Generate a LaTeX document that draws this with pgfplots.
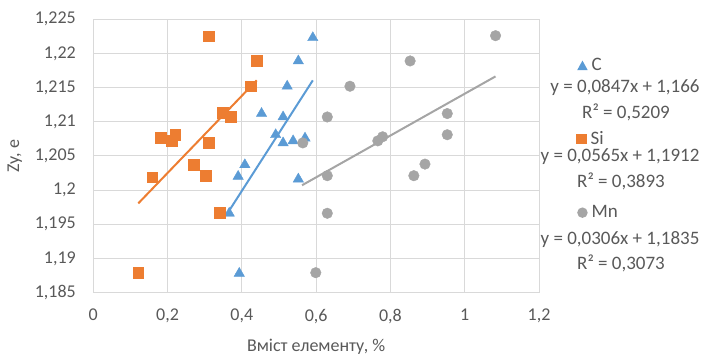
\documentclass[border=0pt]{standalone}
\usepackage{pgfplots}
\pgfplotsset{compat=1.18}
\usepackage{fontspec}
\setmainfont{Carlito}
\definecolor{cC}{HTML}{5B9BD5}
\definecolor{cSi}{HTML}{ED7D31}
\definecolor{cMn}{HTML}{A5A5A5}
\definecolor{txt}{HTML}{595959}
\definecolor{gridc}{HTML}{D9D9D9}
\begin{document}
\begin{tikzpicture}
\useasboundingbox (0pt,0pt) rectangle (702pt,358pt);
\begin{axis}[
  at={(93.3pt,65.5pt)}, anchor=south west,
  scale only axis, width=445.7pt, height=273.2pt,
  xmin=0, xmax=1.2, ymin=1.185, ymax=1.225,
  xtick={0,0.2,0.4,0.6,0.8,1,1.2},
  ytick={1.185,1.19,1.195,1.2,1.205,1.21,1.215,1.22,1.225},
  /pgf/number format/assume math mode=true,
  xticklabel={\pgfmathprintnumber[fixed,precision=1,use comma]{\tick}},
  yticklabel={\pgfmathprintnumber[fixed,precision=3,use comma]{\tick}},
  grid=major, grid style={gridc, line width=1pt},
  axis line style={gridc, line width=1pt},
  major tick length=0pt,
  tick label style={font=\fontsize{18}{20}\selectfont, text=txt},
  xticklabel style={yshift=-13pt},
  yticklabel style={xshift=-14pt},
  xlabel={Вміст елементу, \%},
  ylabel={Zy, e},
  label style={font=\fontsize{18}{20}\selectfont, text=txt},
  xlabel style={at={(axis description cs:0.5,-0.2)}, anchor=center},
  ylabel style={at={(axis description cs:-0.176,0.5)}, anchor=center},
  clip=false,
]
% C
\addplot[only marks, mark=triangle*, mark size=6pt, color=cC, mark options={draw=none, fill=cC}] coordinates {
(0.591,1.2223) (0.552,1.2189) (0.522,1.2152) (0.453,1.2112) (0.511,1.2107)
(0.491,1.2081) (0.511,1.2069) (0.538,1.2072) (0.570,1.2076) (0.408,1.2037)
(0.390,1.2020) (0.552,1.2016) (0.366,1.1966) (0.393,1.1878)};
% Si
\addplot[only marks, mark=square*, mark size=5.3pt, color=cSi, mark options={draw=none, fill=cSi}] coordinates {
(0.310,1.2225) (0.440,1.2189) (0.424,1.2152) (0.348,1.2113) (0.370,1.2107)
(0.220,1.2081) (0.181,1.2077) (0.211,1.2072) (0.310,1.2069) (0.271,1.2037)
(0.303,1.2021) (0.159,1.2019) (0.341,1.1967) (0.121,1.1879)};
% Mn
\addplot[only marks, mark=*, mark size=5.3pt, color=cMn, mark options={draw=none, fill=cMn}] coordinates {
(0.691,1.2152) (0.630,1.2107) (0.564,1.2069) (0.766,1.2072) (0.779,1.2078)
(0.853,1.2189) (1.083,1.2226) (0.953,1.2112) (0.953,1.2081) (0.893,1.2038)
(0.863,1.2021) (0.630,1.2021) (0.630,1.1966) (0.599,1.1879)};
% trend lines
\addplot[cC, line width=2pt] coordinates {(0.366,1.19700) (0.591,1.21606)};
\addplot[cSi, line width=2pt] coordinates {(0.121,1.19804) (0.440,1.21606)};
\addplot[cMn, line width=2pt] coordinates {(0.562,1.20070) (1.083,1.21664)};
\end{axis}
\begin{scope}[every node/.style={text=txt, font=\fontsize{19}{22}\selectfont, inner sep=0pt}]
\node[anchor=west] at (577pt,294pt) {\tikz[baseline=0pt]{\fill[cC] (0pt,0pt)--(10.5pt,0pt)--(5.25pt,9.5pt)--cycle;}\hspace{4pt}C};
\node at (625pt,270.3pt) {y = 0,0847x + 1,166};
\node at (626pt,246pt) {R² = 0,5209};
\node[anchor=west] at (576pt,220pt) {\tikz[baseline=0pt]{\fill[cSi] (0pt,0pt) rectangle (10.5pt,10.5pt);}\hspace{4pt}Si};
\node at (620pt,201pt) {y = 0,0565x + 1,1912};
\node at (621pt,177pt) {R² = 0,3893};
\node[anchor=west] at (577pt,146.3pt) {\tikz[baseline=0pt]{\fill[cMn] (5.25pt,5pt) circle (5.25pt);}\hspace{4pt}Mn};
\node at (620pt,118pt) {y = 0,0306x + 1,1835};
\node at (621pt,95pt) {R² = 0,3073};
\end{scope}
\end{tikzpicture}
\end{document}
